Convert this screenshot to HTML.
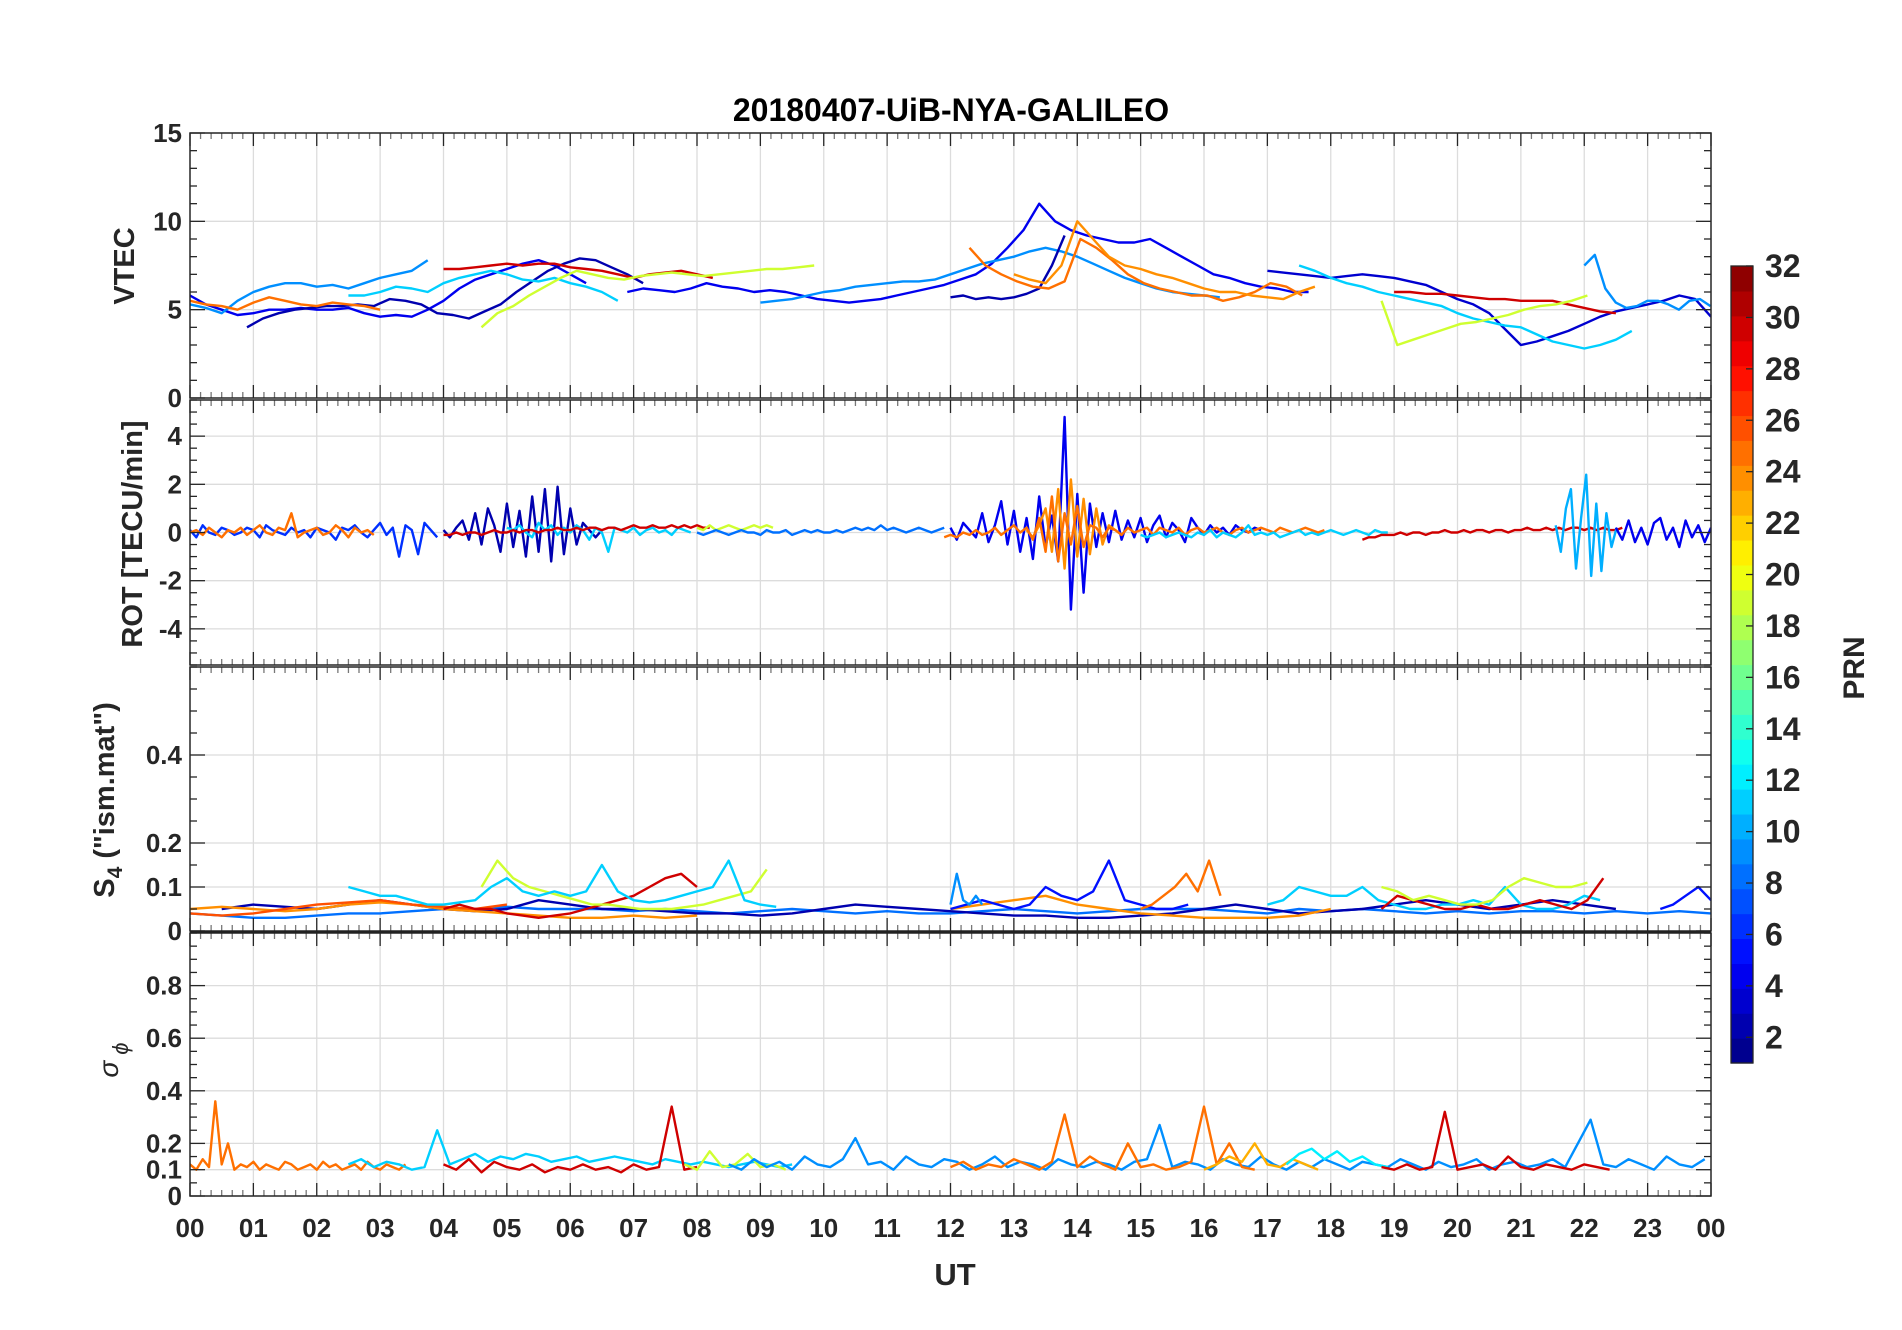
<!DOCTYPE html>
<html><head><meta charset="utf-8"><title>20180407-UiB-NYA-GALILEO</title>
<style>
html,body{margin:0;padding:0;background:#fff;}
svg{display:block;font-family:"Liberation Sans",Arial,sans-serif;}
</style></head>
<body>
<svg id="chart" width="1902" height="1330" viewBox="0 0 1902 1330" xmlns="http://www.w3.org/2000/svg">
<rect x="0" y="0" width="1902" height="1330" fill="#fff"/>
<text x="951" y="121" text-anchor="middle" font-size="32" font-weight="bold" fill="#000">20180407-UiB-NYA-GALILEO</text>
<g id="panels"></g>
<text x="955" y="1285" text-anchor="middle" font-size="31" font-weight="bold" fill="#262626">UT</text>
<text transform="translate(134,266) rotate(-90)" text-anchor="middle" font-size="29" font-weight="bold" fill="#262626">VTEC</text>
<text transform="translate(142,534) rotate(-90)" text-anchor="middle" font-size="29" font-weight="bold" fill="#262626">ROT [TECU/min]</text>
<text transform="translate(114,800) rotate(-90)" text-anchor="middle" font-size="29" font-weight="bold" fill="#262626">S<tspan font-size="21" dy="8">4</tspan><tspan dy="-8"> ("ism.mat")</tspan></text>
<text transform="translate(118,1060) rotate(-90)" text-anchor="middle" font-size="28" font-style="italic" fill="#262626">σ<tspan font-size="22" dy="10" dx="6">ϕ</tspan></text>
<g id="colorbar"></g>
<text transform="translate(1864,668) rotate(-90)" text-anchor="middle" font-size="30" font-weight="bold" fill="#262626">PRN</text>
</svg>
<script>
// ---------- data ----------
const hourLabels = ["00","01","02","03","04","05","06","07","08","09","10","11","12","13","14","15","16","17","18","19","20","21","22","23","00"];
const vtecTicks = [0,5,10,15];
const rotTicks = [-4,-2,0,2,4];
const s4Ticks = [0,0.1,0.2,0.4];
const sigTicks = [0,0.1,0.2,0.4,0.6,0.8];
const cbTicks = [2,4,6,8,10,12,14,16,18,20,22,24,26,28,30,32];

// VTEC series: [prn, startHour, stepHour, values]
const vtec1 = [5.8,5.3,5.0,4.7,4.8,5.0,5.0,5.1,5.0,5.0,5.1,4.8,4.6,4.7,4.6,5.0,5.5,6.2,6.7,7.0,7.3,7.6,7.8,7.5,7.0,6.5];
const vtec2 = [5.3,5.1,4.8,5.5,6.0,6.3,6.5,6.5,6.3,6.4,6.2,6.5,6.8,7.0,7.2,7.8];
const vtec3 = [4.0,4.5,4.8,5.0,5.1,5.2,5.2,5.3,5.2,5.6,5.5,5.3,4.8,4.7,4.5,4.9,5.3,6.0,6.6,7.2,7.6,7.9,7.8,7.4,7.0,6.5];
const vtec4 = [5.5,5.3,5.2,5.0,5.4,5.7,5.5,5.3,5.2,5.4,5.3,5.2,5.0];
const vtec5 = [5.8,5.8,6.0,6.3,6.2,6.0,6.5,6.8,7.0,7.2,7.0,6.7,6.6,6.8,6.5,6.3,6.0,5.5];
const vtec6 = [7.3,7.3,7.4,7.5,7.6,7.5,7.6,7.6,7.4,7.3,7.2,7.0,6.8,7.0,7.1,7.2,7.0,6.8];
const vtec7 = [4.0,4.8,5.2,5.8,6.3,6.8,7.2,7.0,6.8,6.7,6.9,7.0,7.1,7.0,6.9,7.0,7.1,7.2,7.3,7.3,7.4,7.5];
const vtec8 = [6.0,6.2,6.1,6.0,6.2,6.5,6.3,6.2,6.0,6.1,6.0,5.8,5.6,5.5,5.4,5.5,5.6,5.8,6.0,6.2,6.4,6.7,7.0,7.6,8.5,9.5,11.0,10.0,9.5,9.2,9.0,8.8,8.8,9.0,8.5,8.0,7.5,7.0,6.8,6.5,6.3,6.2,6.0,6.0];
const vtec9 = [5.4,5.5,5.6,5.8,6.0,6.1,6.3,6.4,6.5,6.6,6.6,6.7,7.0,7.3,7.6,7.8,8.0,8.3,8.5,8.3,8.0,7.6,7.2,6.8,6.5,6.2,6.0,5.9,5.8,5.7];
const vtec10 = [5.7,5.8,5.6,5.7,5.6,5.7,5.9,6.2,7.5,9.2];
const vtec11 = [8.5,7.5,7.0,6.6,6.3,6.2,6.6,9.0,8.5,7.8,7.0,6.5,6.2,6.0,5.8,5.8,5.5,5.7,6.0,6.5,6.3,5.8];
const vtec12 = [7.0,6.7,6.5,7.5,10.0,9.0,8.0,7.5,7.3,7.0,6.8,6.5,6.2,6.0,6.0,5.8,5.7,5.6,6.0,6.3];
const vtec13 = [7.2,7.1,7.0,6.9,6.8,6.9,7.0,6.9,6.8,6.6,6.4,6.0,5.6,5.3,4.8,3.9,3.0,3.2,3.5,3.8,4.2,4.6,4.9,5.1,5.3,5.5,5.8,5.6,4.6];
const vtec14 = [7.5,7.2,6.8,6.5,6.3,6.0,5.8,5.6,5.4,5.2,4.8,4.5,4.3,4.1,4.0,3.6,3.2,3.0,2.8,3.0,3.3,3.8];
const vtec15 = [6.0,6.0,5.9,5.9,5.8,5.7,5.6,5.6,5.5,5.5,5.5,5.3,5.1,4.9,4.8];
const vtec16 = [5.5,3.0,3.3,3.6,3.9,4.2,4.3,4.5,4.7,5.0,5.2,5.3,5.5,5.8];
const vtec17 = [7.5,8.1,6.2,5.4,5.1,5.2,5.5,5.5,5.3,5.0,5.5,5.6,5.2];
const vtecSeries = [[4,0,0.25,vtec1],[9,0,0.25,vtec2],[2,0.9,0.25,vtec3],[25,0,0.25,vtec4],[11,2.5,0.25,vtec5],[30,4.0,0.25,vtec6],[19,4.6,0.25,vtec7],[4,6.9,0.25,vtec8],[9,9.0,0.25,vtec9],[2,12.0,0.2,vtec10],[25,12.3,0.25,vtec11],[24,13.0,0.25,vtec12],[3,17.0,0.25,vtec13],[11,17.5,0.25,vtec14],[30,19.0,0.25,vtec15],[19,18.8,0.25,vtec16],[9,22.0,0.166,vtec17]];

// ROT series
const rot1 = [0.1,-0.2,0.3,0,-0.1,0.2,0.1,-0.1,0,0.2,0.1,-0.2,0.3,0.1,0,-0.1,0.2,0,0.1,-0.2,0.2,0.1,0,-0.3,0.2,0.1,0.3,0,-0.2,0.1,0.4,-0.1,0.2,-1.0,0.3,0.1,-0.9,0.4,0.1,-0.2];
const rot2 = [0,0.1,-0.1,0.2,0,-0.2,0.1,0,0.2,-0.1,0.1,0.3,0,-0.1,0.2,0.1,0.8,-0.2,0,0.1,0.2,-0.1,0,0.3,0.1,-0.2,0.2,0,0.1,-0.1];
const rot3 = [0.1,-0.2,0.2,0.5,-0.3,0.8,-0.5,1.0,0.3,-0.8,1.2,-0.6,0.9,-1.0,1.5,-0.8,1.8,-1.2,1.9,-0.9,1.0,-0.5,0.4,0.1,-0.2,0.1];
const rot4 = [0.2,0.1,0.3,0,-0.2,0.4,0.1,0.3,-0.1,0.2,0,0.3,0.1,-0.3,0.2,0,-0.8,0.2,0.1,0,0.2,-0.1,0.1,0.2,0,0.1,-0.1,0.2,0.1,0];
const rot5 = [-0.1,-0.1,0,-0.1,0,0,-0.1,0,0.1,0,0,0.1,0,0.1,0.1,0,0.1,0.1,0.2,0.1,0.1,0.2,0.1,0.2,0.2,0.1,0.2,0.2,0.1,0.2,0.3,0.2,0.2,0.3,0.2,0.2,0.3,0.2,0.3,0.2,0.3,0.2,0.2];
const rot6 = [0.2,0.1,0.3,0.1,0.2,0.3,0.2,0.1,0.2,0.3,0.2,0.3,0.2];
const rot7 = [0,-0.1,0,0.1,0,-0.1,0,0.1,0,0,-0.1,0.1,0,0,0.1,-0.1,0,0.1,0,0.1,0,0,0.1,0,0.1,0.2,0.1,0.2,0.1,0.3,0.1,0.2,0.1,0,0.1,0.2,0.1,0,0.1,0.2];
const rot8 = [0.2,-0.3,0.4,0.1,-0.2,0.8,-0.4,0.3,1.3,-0.5,0.9,-0.8,0.6,-1.1,1.5,-0.6,0.7,-1.2,4.8,-3.2,1.6,-2.5,1.2,-0.6,0.8,-0.4,0.9,-0.3,0.5,-0.2,0.6,-0.4,0.3,0.7,-0.2,0.4,0.1,-0.4,0.6,0.2,-0.1,0.3,0,0.2,-0.1,0.3,0.1,0,0.2,0.1];
const rot9 = [0.1,-0.2,0.3,1.0,-0.8,1.8,-1.5,2.2,-1.0,1.4,-0.9,1.0,-0.5,0.3,0.1,-0.1];
const rot10 = [-0.2,-0.1,-0.2,0,-0.1,0.1,-0.1,0,0.2,-0.1,0.1,0.3,0,0.2,-0.3,0.6,-0.8,1.5,-1.2,0.8,-0.5,1.1,-0.6,0.3,0.2,-0.2,0.2,0.1,-0.1,0.2,0,0.1,0.2,-0.1,0.2,0.1,0,0.2,-0.1,0.1,0.2,0,0.1,0.2,0,-0.1,0.1,0.2,0,0.1,0.2,0.1,0,0.2,0.1,0,0.1,0.2,0.1,0,0.1];
const rot11 = [-0.1,-0.2,-0.1,0,-0.2,-0.1,0,-0.1,-0.2,0,-0.1,0.1,-0.2,0,-0.1,-0.2,0,0.3,-0.1,0,-0.1,0,-0.2,-0.1,0,0.1,-0.1,0,-0.1,0,0.1,0,-0.1,0,0.1,0,-0.1,0.1,0,0];
const rot12 = [-0.3,-0.2,-0.2,-0.1,-0.1,-0.1,0,-0.1,0,0,-0.1,0,0,0.1,0,0,0.1,0,0.1,0.1,0,0.1,0.1,0,0.1,0.1,0.2,0.1,0.1,0.2,0.1,0.2,0.1,0.2,0.2,0.1,0.2,0.1,0.2,0.1,0.1,0.2];
const rot13 = [0.3,-0.8,1.0,1.8,-1.5,0.6,2.4,-1.8,1.2,-1.6,0.8,-0.6,0.2];
const rot14 = [0.2,-0.3,0.5,-0.4,0.2,-0.5,0.4,0.6,-0.3,0.2,-0.6,0.5,-0.2,0.3,-0.4,0.2];
const rotSeries = [[6,0,0.1,rot1],[25,0,0.1,rot2],[2,4.0,0.1,rot3],[11,5.0,0.1,rot4],[30,4.0,0.1,rot5],[19,8.0,0.1,rot6],[8,8.0,0.1,rot7],[4,12.0,0.1,rot8],[24,13.2,0.1,rot9],[25,11.9,0.1,rot10],[11,15.0,0.1,rot11],[30,18.5,0.1,rot12],[10,21.55,0.08,rot13],[4,22.5,0.1,rot14]];

// S4 series
const s4a = [0.04,0.035,0.03,0.03,0.035,0.04,0.04,0.045,0.05,0.05,0.055,0.05,0.05,0.05,0.045,0.05,0.045,0.04,0.045,0.05,0.045,0.04,0.045,0.04,0.04,0.045,0.05,0.045,0.04,0.045,0.05,0.05,0.05,0.045,0.04,0.05,0.045,0.05,0.045,0.04,0.045,0.04,0.045,0.045,0.04,0.045,0.04,0.045,0.04];
const s4b = [0.05,0.06,0.055,0.05,0.06,0.07,0.06,0.05,0.045,0.05,0.07,0.06,0.05,0.05,0.045,0.04,0.04,0.035,0.04,0.05,0.06,0.055,0.05,0.045,0.04,0.035,0.035,0.03,0.03,0.035,0.04,0.05,0.06,0.05,0.04,0.045,0.05,0.06,0.07,0.06,0.05,0.06,0.07,0.06,0.05];
const s4c = [0.05,0.055,0.05,0.045,0.05,0.06,0.065,0.06,0.05,0.045,0.04,0.035,0.03,0.03,0.035,0.03,0.035];
const s4d = [0.05,0.06,0.07,0.08,0.06,0.05,0.04,0.035,0.03,0.03,0.03,0.035,0.05];
const s4e = [0.04,0.035,0.04,0.05,0.06,0.065,0.07,0.06,0.055,0.05,0.06];
const s4f = [0.05,0.06,0.05,0.05,0.04,0.035,0.03,0.035,0.04,0.05,0.06,0.07,0.08,0.1,0.12,0.13,0.1];
const s4g = [0.1,0.16,0.12,0.1,0.09,0.08,0.07,0.06,0.06,0.055,0.05,0.05,0.05,0.055,0.06,0.07,0.08,0.09,0.14];
const s4h = [0.1,0.09,0.08,0.08,0.07,0.06,0.06,0.065,0.07,0.1,0.12,0.09,0.08,0.09,0.08,0.09,0.15,0.09,0.07,0.065,0.07,0.08,0.09,0.1,0.16,0.07,0.06,0.055];
const s4i = [0.06,0.07,0.1,0.09,0.08,0.08,0.1,0.07,0.06,0.05,0.05,0.06,0.06,0.07,0.06,0.1,0.06,0.05,0.05,0.06,0.08,0.07];
const s4j = [0.05,0.06,0.07,0.06,0.05,0.06,0.1,0.08,0.07,0.09,0.16,0.07,0.06,0.05,0.05,0.06];
const s4k = [0.06,0.13,0.07,0.06,0.08,0.06];
const s4l = [0.05,0.06,0.08,0.1,0.13,0.09,0.16,0.08];
const s4m = [0.05,0.08,0.07,0.06,0.05,0.05,0.06,0.05,0.05,0.06,0.07,0.06,0.05,0.07,0.12];
const s4n = [0.1,0.09,0.07,0.08,0.07,0.06,0.06,0.07,0.1,0.12,0.11,0.1,0.1,0.11];
const s4o = [0.05,0.06,0.08,0.1,0.07];
const s4Series = [[8,0,0.5,s4a],[2,0.5,0.5,s4b],[24,0,0.5,s4c],[24,12,0.5,s4d],[26,0,0.5,s4e],[30,4,0.25,s4f],[19,4.6,0.25,s4g],[11,2.5,0.25,s4h],[11,17,0.25,s4i],[5,12,0.25,s4j],[9,12,0.1,s4k],[25,15,0.18,s4l],[30,18.8,0.25,s4m],[19,18.8,0.25,s4n],[5,23.2,0.2,s4o]];

// sigma-phi series
const sg1 = [0.12,0.1,0.14,0.11,0.36,0.12,0.2,0.1,0.12,0.11,0.13,0.1,0.12,0.11,0.1,0.13,0.12,0.1,0.11,0.12,0.1,0.13,0.11,0.12,0.1,0.11,0.12,0.1,0.13,0.11,0.1,0.12,0.11,0.1,0.12];
const sg2 = [0.12,0.14,0.11,0.13,0.12,0.1,0.11,0.25,0.12,0.14,0.16,0.13,0.15,0.14,0.16,0.15,0.13,0.14,0.15,0.13,0.14,0.15,0.14,0.13,0.12,0.14,0.13,0.12,0.13,0.12,0.11,0.12,0.13,0.12,0.11,0.12];
const sg3 = [0.12,0.1,0.14,0.09,0.13,0.11,0.1,0.12,0.09,0.11,0.1,0.12,0.1,0.11,0.09,0.12,0.1,0.11,0.34,0.1,0.11];
const sg4 = [0.12,0.1,0.17,0.11,0.12,0.16,0.11,0.12,0.1];
const sg5 = [0.12,0.1,0.14,0.11,0.13,0.1,0.15,0.12,0.11,0.14,0.22,0.12,0.13,0.1,0.15,0.12,0.11,0.14,0.13,0.1,0.12,0.15,0.11,0.13,0.12,0.1,0.14,0.12,0.11,0.13,0.12,0.1,0.13,0.14,0.27,0.11,0.13,0.12,0.1,0.14,0.12,0.11,0.15,0.12,0.1,0.13,0.11,0.14,0.12,0.1,0.13,0.12,0.11,0.14,0.12,0.1,0.13,0.11,0.12,0.14,0.1,0.12,0.13,0.11,0.12,0.14,0.11,0.2,0.29,0.12,0.11,0.14,0.12,0.1,0.15,0.12,0.11,0.14];
const sg6 = [0.11,0.13,0.1,0.12,0.11,0.14,0.12,0.1,0.13,0.31,0.11,0.15,0.12,0.1,0.2,0.11,0.12,0.1,0.11,0.13,0.34,0.12,0.2,0.11,0.1];
const sg7 = [0.1,0.12,0.15,0.13,0.2,0.12,0.11,0.14,0.12,0.1];
const sg8 = [0.12,0.16,0.18,0.14,0.17,0.13,0.15,0.12,0.11];
const sg9 = [0.11,0.1,0.12,0.1,0.11,0.32,0.1,0.11,0.12,0.1,0.15,0.11,0.1,0.12,0.11,0.1,0.12,0.11,0.1];
const sgSeries = [[25,0,0.1,sg1],[11,2.5,0.2,sg2],[30,4,0.2,sg3],[19,7.8,0.2,sg4],[9,8.5,0.2,sg5],[25,12,0.2,sg6],[23,16,0.2,sg7],[12,17.3,0.2,sg8],[30,18.8,0.2,sg9]];

// ---------- layout ----------
const L = 190, R = 1711;
const panels = [
  {name:"vtec", top:133, bot:398, min:0, max:15, ticks:vtecTicks, series:vtecSeries, minor:1},
  {name:"rot", top:400, bot:665, min:-5.5, max:5.5, ticks:rotTicks, series:rotSeries, minor:0.5},
  {name:"s4", top:667, bot:931, min:0, max:0.6, ticks:s4Ticks, series:s4Series, minor:0.05},
  {name:"sigma", top:933, bot:1196, min:0, max:1, ticks:sigTicks, series:sgSeries, minor:0.05}
];
const NS = "http://www.w3.org/2000/svg";
function xs(h){ return L + (R-L)*h/24; }
function jet(v){
  function c(x){ return Math.max(0,Math.min(1,x)); }
  const r = c(Math.min(4*v-1.5, -4*v+4.5));
  const g = c(Math.min(4*v-0.5, -4*v+3.5));
  const b = c(Math.min(4*v+0.5, -4*v+2.5));
  return "rgb("+Math.round(r*255)+","+Math.round(g*255)+","+Math.round(b*255)+")";
}
function prnColor(p){ return jet((p-0.5)/32); }
function mk(tag, attrs, parent){
  const e = document.createElementNS(NS, tag);
  for (const k in attrs) e.setAttribute(k, attrs[k]);
  parent.appendChild(e); return e;
}
const root = document.getElementById("panels");
panels.forEach(function(p){
  const g = mk("g", {}, root);
  
  
  const ys = function(v){ return p.bot - (p.bot-p.top)*(v-p.min)/(p.max-p.min); };
  for (let h=1; h<24; h++){
    const ln = mk("line", {x1:xs(h), x2:xs(h), y1:p.top, y2:p.bot, stroke:"#dcdcdc", "stroke-width":1.3}, g);
    
    
  }
  p.ticks.forEach(function(t){
    if (t===p.min) return;
    const ln = mk("line", {x1:L, x2:R, y1:ys(t), y2:ys(t), stroke:"#dcdcdc", "stroke-width":1.3}, g);
    
    
  });
  const clip = "clip-"+p.name;
  const cp = mk("clipPath", {id:clip}, g);
  mk("rect", {x:L, y:p.top, width:R-L, height:p.bot-p.top}, cp);
  const sg = mk("g", {"clip-path":"url(#"+clip+")"}, g);
  p.series.forEach(function(s){
    const prn = s[0], t0 = s[1], dt = s[2], vals = s[3];
    const pts = vals.map(function(v, k){ return xs(t0 + k*dt).toFixed(1)+","+ys(v).toFixed(1); }).join(" ");
    const pl = mk("polyline", {points:pts, fill:"none", stroke:prnColor(prn), "stroke-width":2.4, "stroke-linejoin":"round"}, sg);
    
    
  });
  const tk = mk("g", {stroke:"#262626", "stroke-width":1.3}, g);
  for (let m=0; m<=144; m++){
    const x = L + (R-L)*m/144;
    const len = (m%6===0) ? 13 : 6;
    mk("line", {x1:x, x2:x, y1:p.bot, y2:p.bot-len, stroke: m%6===0?"#262626":"#777"}, tk);
    mk("line", {x1:x, x2:x, y1:p.top, y2:p.top+len, stroke: m%6===0?"#262626":"#777"}, tk);
  }
  for (let v=p.min; v<=p.max+1e-9; v+=p.minor){
    const y = ys(v);
    const major = p.ticks.some(function(t){ return Math.abs(t-v)<1e-6; });
    const len = major ? 15 : 7;
    mk("line", {x1:L, x2:L+len, y1:y, y2:y}, tk);
    mk("line", {x1:R, x2:R-len, y1:y, y2:y}, tk);
  }
  mk("rect", {x:L, y:p.top, width:R-L, height:p.bot-p.top, fill:"none", stroke:"#262626", "stroke-width":1.5}, g);
  p.ticks.forEach(function(t){
    const tx = mk("text", {x:L-8, y:ys(t)+9, "text-anchor":"end", "font-size":26, "font-weight":"bold", fill:"#262626"}, g);
    tx.textContent = String(t);
    
    
  });
});
mk("line", {x1:L, x2:R, y1:932, y2:932, stroke:"#222", "stroke-width":3}, root);
hourLabels.forEach(function(lab, h){
  const tx = mk("text", {x:xs(h), y:1237, "text-anchor":"middle", "font-size":26, "font-weight":"bold", fill:"#262626"}, root);
  tx.textContent = lab;
  
  
});
const cb = document.getElementById("colorbar");


const cbL = 1731, cbR = 1753, cbTop = 266, cbBot = 1063;
const cy = function(v){ return cbBot - (cbBot-cbTop)*(v-1)/31; };
for (let i=0; i<32; i++){
  const y0 = cbBot - (cbBot-cbTop)*(i+1)/32, y1 = cbBot - (cbBot-cbTop)*i/32;
  mk("rect", {x:cbL, y:y0, width:cbR-cbL, height:y1-y0+0.6, fill:jet((i+0.5)/32)}, cb);
}
mk("rect", {x:cbL, y:cbTop, width:cbR-cbL, height:cbBot-cbTop, fill:"none", stroke:"#262626", "stroke-width":1.3}, cb);
cbTicks.forEach(function(t){
  mk("line", {x1:cbR, x2:cbR-7, y1:cy(t), y2:cy(t), stroke:"#262626", "stroke-width":1.3}, cb);
  const tx = mk("text", {x:1765, y:cy(t)+11, "font-size":32, "font-weight":"bold", fill:"#262626"}, cb);
  tx.textContent = String(t);
  
  
});
</script>
</body></html>
